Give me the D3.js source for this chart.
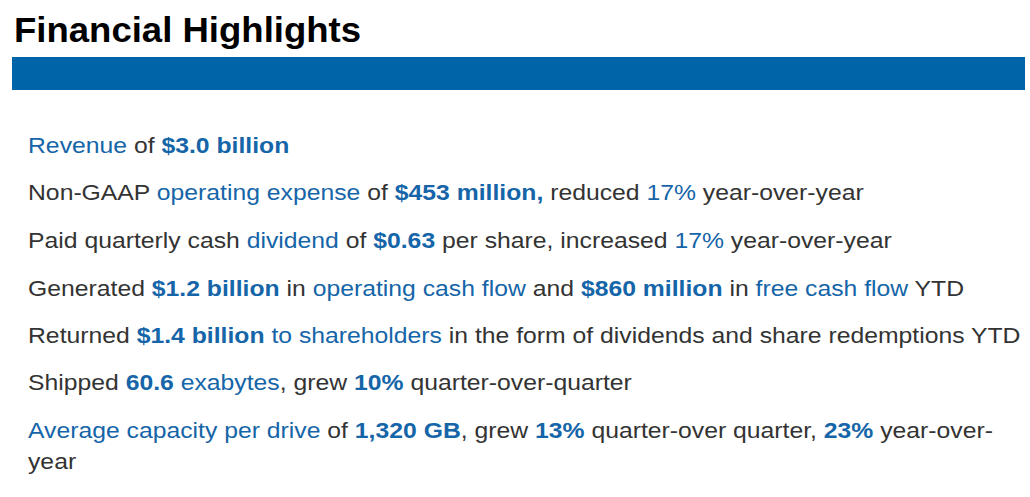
<!DOCTYPE html>
<html><head><meta charset="utf-8">
<script src="https://cdn.jsdelivr.net/npm/d3@7"></script>
<style>body{margin:0;background:#fff}</style>
</head><body>
<svg id="c" width="1030" height="497"></svg>
<script>
// n = normal grey, b = blue, B = bold blue
const title = 'Financial Highlights'
const lines = [
  [['Revenue', 'b'], [' of ', 'n'], ['$3.0 billion', 'B']],
  [['Non-GAAP ', 'n'], ['operating expense', 'b'], [' of ', 'n'], ['$453 million,', 'B'], [' reduced ', 'n'], ['17%', 'b'], [' year-over-year', 'n']],
  [['Paid quarterly cash ', 'n'], ['dividend', 'b'], [' of ', 'n'], ['$0.63', 'B'], [' per share, increased ', 'n'], ['17%', 'b'], [' year-over-year', 'n']],
  [['Generated ', 'n'], ['$1.2 billion', 'B'], [' in ', 'n'], ['operating cash flow', 'b'], [' and ', 'n'], ['$860 million', 'B'], [' in ', 'n'], ['free cash flow', 'b'], [' YTD', 'n']],
  [['Returned ', 'n'], ['$1.4 billion', 'B'], [' to shareholders', 'b'], [' in the form of dividends and share redemptions YTD', 'n']],
  [['Shipped ', 'n'], ['60.6', 'B'], [' exabytes', 'b'], [', grew ', 'n'], ['10%', 'B'], [' quarter-over-quarter', 'n']],
  [['Average capacity per drive', 'b'], [' of ', 'n'], ['1,320 GB', 'B'], [', grew ', 'n'], ['13%', 'B'], [' quarter-over quarter, ', 'n'], ['23%', 'B'], [' year-over-', 'n']],
  [['year', 'n']]
]
const baselines = [153, 200, 248, 296, 343, 390, 438, 469]

const svg = d3.select('#c')
const font = 'Liberation Sans, Arial, sans-serif'
const grey = '#333333', blue = '#1565a8'

svg.append('text').attr('transform', 'translate(14,42) scale(1.044,1)')
  .attr('font-family', font).attr('font-size', 35).attr('font-weight', 'bold')
  .attr('fill', '#000').text(title)

svg.append('rect').attr('x', 12).attr('y', 57).attr('width', 1013).attr('height', 33)
  .attr('fill', '#0064a8')

const y = d3.scaleOrdinal().domain(d3.range(lines.length)).range(baselines)

svg.selectAll('text.line').data(lines).join('text')
  .attr('class', 'line')
  .attr('transform', (d, i) => `translate(28,${y(i)}) scale(1.125,1)`)
  .attr('font-family', font).attr('font-size', 22)
  .attr('xml:space', 'preserve').style('white-space', 'pre')
  .selectAll('tspan').data(d => d).join('tspan')
  .attr('fill', d => d[1] === 'n' ? grey : blue)
  .attr('font-weight', d => d[1] === 'B' ? 'bold' : 'normal')
  .text(d => d[0])
</script>
</body></html>
